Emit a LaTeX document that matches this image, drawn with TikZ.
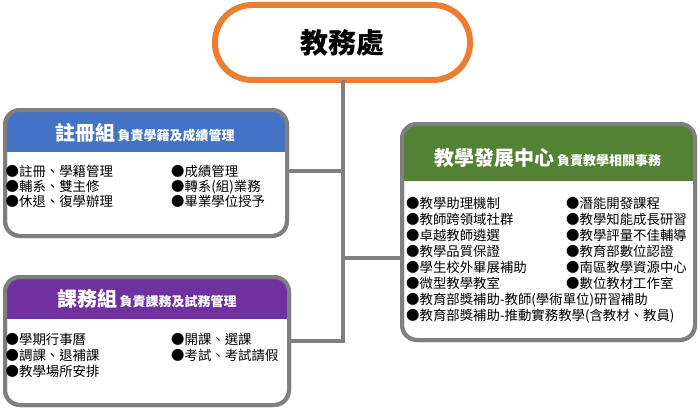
\documentclass[tikz,border=0pt]{standalone}
\usepackage{fontspec}
\setmainfont{Noto Sans CJK TC}
\usetikzlibrary{calc}
\definecolor{orng}{HTML}{ED7D31}
\definecolor{hblue}{HTML}{4472C4}
\definecolor{hpurple}{HTML}{7030A0}
\definecolor{hgreen}{HTML}{548235}
\definecolor{bgray}{HTML}{7F7F7F}
\tikzset{
  conn/.style={draw=bgray, line width=4pt},
  panel/.style={draw=bgray, line width=4pt, fill=white, rounded corners=15pt, rectangle, outer sep=0pt, inner sep=0pt, anchor=north west},
  head/.style={text=white, inner sep=0pt, anchor=base},
  items/.style={inner sep=0pt, anchor=base west, align=left, font=\fontsize{13.4}{15}\selectfont},
  itemsg/.style={items, font=\fontsize{13.4}{16}\selectfont},
}
\newcommand{\bigt}[1]{{\fontsize{20}{20}\selectfont\bfseries #1}}
\newcommand{\smallt}[1]{{\fontsize{13}{13}\selectfont\bfseries #1}}
\begin{document}
\begin{tikzpicture}[x=1pt,y=-1pt]
\useasboundingbox (0,0) rectangle (700,409);
% top
\node[draw=orng, line width=6pt, fill=white, rounded corners=37pt, minimum width=255pt, minimum height=75pt, inner sep=0pt, outer sep=0pt] (top) at (342.5,42.5) {\fontsize{28}{28}\selectfont\bfseries 教務處};
% panels
\node[panel, minimum width=282pt, minimum height=126pt] (reg) at (5,110) {};
\node[panel, minimum width=284pt, minimum height=128pt] (pur) at (5,277) {};
\node[panel, minimum width=293pt, minimum height=216pt] (dev) at (402,124) {};
% connectors
\coordinate (jb) at (343,171);
\coordinate (jg) at (343,258);
\draw[conn] (top.south) -- (top.south |- pur.east) -- (pur.east);
\draw[conn] (reg.east |- jb) -- (jb);
\draw[conn] (jg) -- (dev.west |- jg);
% headers
\begin{scope}
\clip[rounded corners=15pt] (reg.north west) rectangle (reg.south east);
\fill[hblue] (reg.north west) rectangle ($(reg.north east)+(0,42)$);
\end{scope}
\begin{scope}
\clip[rounded corners=15pt] (pur.north west) rectangle (pur.south east);
\fill[hpurple] (pur.north west) rectangle ($(pur.north east)+(0,42)$);
\end{scope}
\begin{scope}
\clip[rounded corners=15pt] (dev.north west) rectangle (dev.south east);
\fill[hgreen] (dev.north west) rectangle ($(dev.north east)+(0,57)$);
\end{scope}
\draw[bgray, line width=4pt, rounded corners=15pt] (reg.north west) rectangle (reg.south east);
\draw[bgray, line width=4pt, rounded corners=15pt] (pur.north west) rectangle (pur.south east);
\draw[bgray, line width=4pt, rounded corners=15pt] (dev.north west) rectangle (dev.south east);
% header titles
\node[head] (regt) at (145,140) {\bigt{註冊組} \smallt{負責學籍及成績管理}};
\node[head] (purt) at (147,306) {\bigt{課務組} \smallt{負責課務及試務管理}};
\node[head] (devt) at (548,165) {\bigt{教學發展中心} \smallt{負責教學相關事務}};
% items (base anchor = last line baseline)
\node[items] (ra) at (5.5,206) {●註冊、學籍管理\\●輔系、雙主修\\●休退、復學辦理};
\node[items] (rb) at (171,206) {●成績管理\\●轉系(組)業務\\●畢業學位授予};
\node[itemsg] (pa) at (5.5,376) {●學期行事曆\\●調課、退補課\\●教學場所安排};
\node[itemsg] (pb) at (171,360) {●開課、選課\\●考試、考試請假};
\node[itemsg] (da) at (406,320) {●教學助理機制\\●教師跨領域社群\\●卓越教師遴選\\●教學品質保證\\●學生校外畢展補助\\●微型教學教室\\●教育部獎補助-教師(學術單位)研習補助\\●教育部獎補助-推動實務教學(含教材、教員)};
\node[itemsg] (db) at (566,288) {●潛能開發課程\\●教學知能成長研習\\●教學評量不佳輔導\\●教育部數位認證\\●南區教學資源中心\\●數位教材工作室};
\end{tikzpicture}
\end{document}
